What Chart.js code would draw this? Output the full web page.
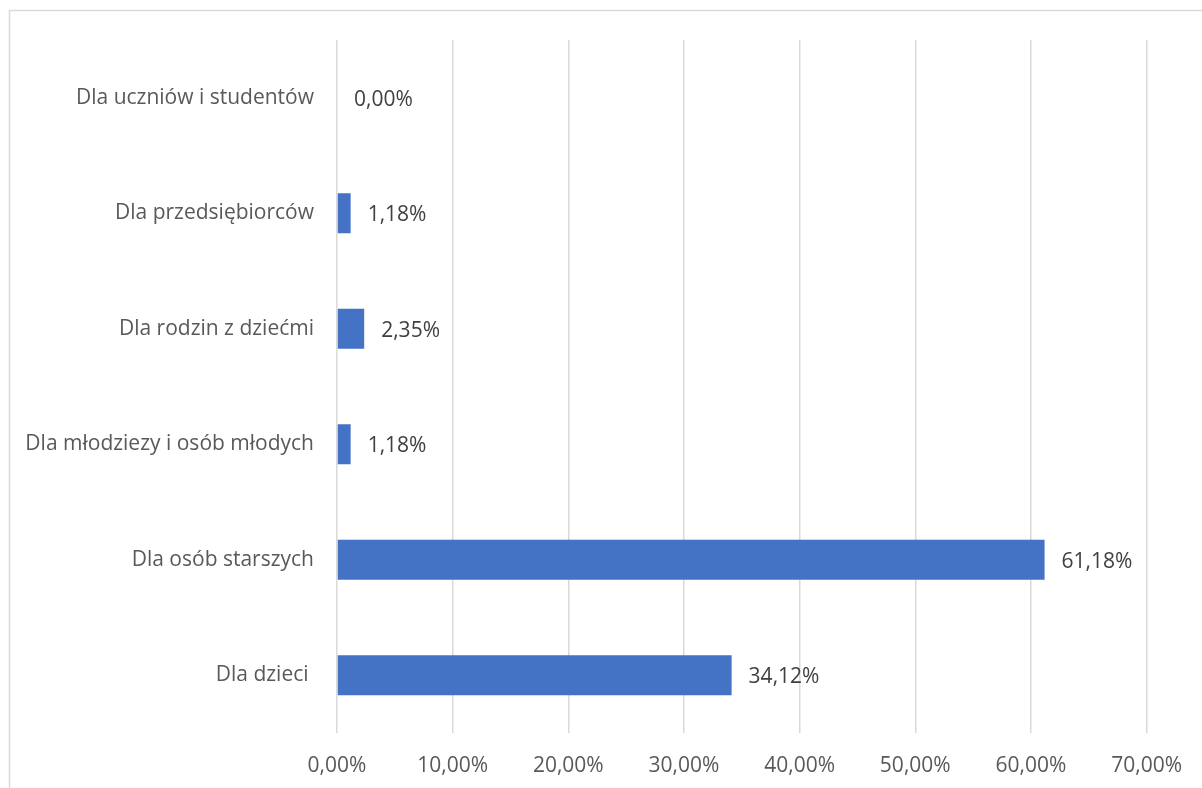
<!DOCTYPE html>
<html>
<head>
<meta charset="utf-8">
<script src="https://cdn.jsdelivr.net/npm/chart.js@4/dist/chart.umd.min.js"></script>
<style>
html,body{margin:0;padding:0;background:#fff;}
#wrap{width:1202px;height:788px;position:relative;}
</style>
</head>
<body>
<div id="wrap"><canvas id="c" width="1202" height="788"></canvas></div>
<script>
const categories = ["Dla uczniów i studentów","Dla przedsiębiorców","Dla rodzin z dziećmi","Dla młodziezy i osób młodych","Dla osób starszych","Dla dzieci "];
const values = [0.00, 1.18, 2.35, 1.18, 61.18, 34.12];
const tickValues = [0,10,20,30,40,50,60,70];

const fmt = v => Number(v).toFixed(2).replace('.', ',') + '%';
const FONT = "'Open Sans', sans-serif";
const FS = 21;

const borderPlugin = {
  id: 'frame',
  beforeDraw(chart){
    const ctx = chart.ctx;
    ctx.save();
    ctx.fillStyle = '#fff';
    ctx.fillRect(0,0,chart.width,chart.height);
    ctx.strokeStyle = '#d9d9d9';
    ctx.lineWidth = 1.5;
    ctx.strokeRect(9.5, 10.5, 1202, 800);
    ctx.restore();
  }
};
const labelPlugin = {
  id: 'vlabels',
  afterDatasetsDraw(chart){
    const ctx = chart.ctx;
    const meta = chart.getDatasetMeta(0);
    ctx.save();
    ctx.font = FS + "px " + FONT;
    ctx.fillStyle = '#404040';
    ctx.textAlign = 'left';
    ctx.textBaseline = 'middle';
    meta.data.forEach((bar, i) => {
      ctx.fillText(fmt(values[i]), bar.x + 17, bar.y + 2);
    });
    ctx.restore();
  }
};

new Chart(document.getElementById('c'), {
  type: 'bar',
  data: {
    labels: categories,
    datasets: [{
      data: values,
      backgroundColor: '#4472C4',
      borderWidth: 0,
      categoryPercentage: 1,
      barPercentage: 0.345
    }]
  },
  options: {
    indexAxis: 'y',
    responsive: false,
    animation: false,
    layout: { padding: { left: 0, top: 40, right: 54, bottom: 0 } },
    plugins: { legend: { display: false }, tooltip: { enabled: false } },
    scales: {
      x: {
        min: 0, max: 70,
        afterBuildTicks(scale){ scale.ticks = tickValues.map(v => ({value: v})); },
        afterFit(scale){ scale.height = 55; },
        grid: { color: '#d9d9d9', lineWidth: 1.5, drawTicks: false },
        border: { display: false },
        ticks: { callback: v => fmt(v), color: '#595959', font: { family: FONT, size: FS }, padding: 20, maxRotation: 0 }
      },
      y: {
        afterFit(scale){ scale.width = 337; },
        grid: { display: false, drawTicks: false },
        border: { display: false },
        ticks: { color: '#595959', font: { family: FONT, size: FS }, padding: 23 }
      }
    }
  },
  plugins: [borderPlugin, labelPlugin]
});
</script>
</body>
</html>
